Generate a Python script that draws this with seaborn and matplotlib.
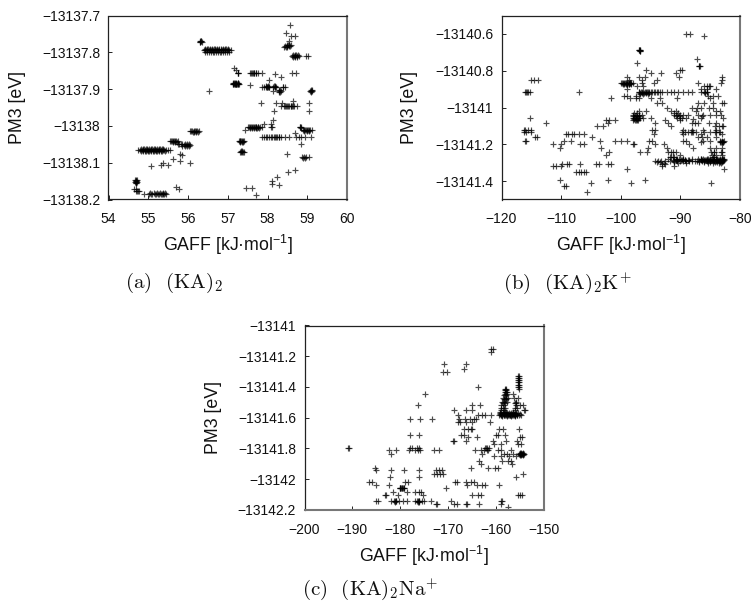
import matplotlib
matplotlib.use("Agg")
import matplotlib.pyplot as plt
import pandas as pd
import seaborn as sns

# ---- panel (a): PM3 level (eV) and GAFF values (kJ/mol) found at that level
a_pm3 = [-13137.725, -13137.747, -13137.757, -13137.770, -13137.780, -13137.785, -13137.795,
         -13137.810, -13137.842, -13137.848, -13137.857, -13137.860, -13137.867, -13137.875,
         -13137.885, -13137.888, -13137.893, -13137.905, -13137.932, -13137.938, -13137.945,
         -13137.960, -13137.985, -13137.995, -13138.004, -13138.012, -13138.015, -13138.020,
         -13138.030, -13138.042, -13138.048, -13138.052, -13138.066, -13138.070, -13138.075,
         -13138.080, -13138.085, -13138.090, -13138.095, -13138.100, -13138.105, -13138.110,
         -13138.120, -13138.125, -13138.140, -13138.150, -13138.157, -13138.160, -13138.165,
         -13138.168, -13138.172, -13138.178, -13138.185, -13138.187]
a_gaff = [[58.57], [58.47], [58.58, 58.68], [56.30, 56.32, 56.33, 58.55],
          [58.48, 58.52, 58.55, 58.58], [58.42, 58.46, 58.50],
          [56.40, 56.43, 56.46, 56.49, 56.52, 56.55, 56.58, 56.61, 56.64, 56.67, 56.70, 56.73,
           56.76, 56.79, 56.82, 56.85, 56.88, 56.91, 56.94, 56.97, 57.00, 57.04, 57.08],
          [58.62, 58.66, 58.70, 58.74, 58.78, 58.98, 59.03], [57.15], [57.20],
          [57.25, 57.27, 57.55, 57.60, 57.63, 57.67, 57.70, 57.75, 57.85, 58.62, 58.72], [58.20],
          [58.35], [58.05],
          [57.12, 57.15, 57.17, 57.20, 57.22, 57.25, 57.28], [57.55],
          [57.85, 57.92, 57.95, 57.98, 58.02, 58.05, 58.15, 58.18, 58.22, 58.38, 58.45],
          [56.52, 58.13, 58.30, 58.33, 59.08, 59.10, 59.12], [58.65],
          [57.83, 58.22, 58.37, 59.05],
          [58.35, 58.42, 58.47, 58.52, 58.58, 58.62, 58.67, 58.75], [58.17, 59.05], [58.15],
          [57.90, 58.10],
          [57.52, 57.56, 57.60, 57.65, 57.70, 57.75, 57.80, 57.85, 58.10, 58.82, 58.85],
          [57.43, 58.90, 58.95, 59.00, 59.05, 59.12], [56.05, 56.10, 56.18, 56.23, 56.27], [58.70],
          [57.85, 57.92, 57.98, 58.05, 58.12, 58.20, 58.25, 58.30, 58.35, 58.45, 58.55, 58.72,
           58.80, 58.85, 58.95, 59.10],
          [55.55, 55.60, 55.65, 55.70, 55.75, 57.28, 57.32, 57.36, 57.40],
          [55.75, 55.85, 58.85], [55.90, 55.95, 56.00, 56.05],
          [54.75, 54.80, 54.84, 54.88, 54.92, 54.96, 55.00, 55.04, 55.08, 55.12, 55.16, 55.20,
           55.24, 55.28, 55.32, 55.36, 55.40, 55.45, 55.50, 55.55],
          [57.30, 57.36, 57.40], [55.80, 58.48], [55.85],
          [58.88, 58.92, 58.96, 59.05], [55.62], [55.80], [55.38, 56.05], [55.32, 55.50], [55.07],
          [58.68], [58.52], [58.23], [54.68, 54.70, 58.12], [58.12], [58.30], [55.70],
          [57.47, 57.60], [54.63, 54.70, 55.78], [54.77],
          [54.90, 55.02, 55.10, 55.17, 55.25, 55.32, 55.38, 55.45], [57.70]]

# panel (a): the tightly packed runs that read as solid strokes
a_dense_pm3 = [-13137.792, -13137.798, -13137.772, -13137.782, -13137.808, -13137.812,
               -13137.855, -13137.883, -13137.887, -13137.892, -13137.895, -13137.903, -13137.907,
               -13137.947, -13138.002, -13138.006, -13138.010, -13138.014, -13138.017,
               -13138.029, -13138.041, -13138.044, -13138.050, -13138.054, -13138.064, -13138.068,
               -13138.069, -13138.071, -13138.086, -13138.148, -13138.153, -13138.156, -13138.176,
               -13138.183, -13138.186]
a_dense_gaff = [[56.42, 56.47, 56.51, 56.56, 56.60, 56.65, 56.69, 56.74, 56.78, 56.83, 56.87, 56.92, 56.96, 57.01],
                [56.44, 56.48, 56.53, 56.57, 56.62, 56.66, 56.71, 56.75, 56.80, 56.84, 56.89, 56.93, 56.98, 57.03],
                [56.29, 56.31, 56.34], [58.44, 58.50, 58.54, 58.57], [58.64, 58.68, 58.72, 58.76],
                [58.65, 58.69, 58.73], [57.58, 57.65, 57.72, 57.27],
                [57.13, 57.16, 57.19, 57.22, 57.25, 57.27], [57.14, 57.18, 57.21, 57.24, 57.26],
                [57.95, 58.00, 58.17, 58.20], [57.98, 58.03, 58.19, 58.40],
                [58.28, 58.32, 59.09, 59.11], [58.29, 58.31, 59.10],
                [58.44, 58.50, 58.55, 58.60, 58.65],
                [57.54, 57.58, 57.63, 57.68, 57.72, 57.77, 58.11, 58.83],
                [57.55, 57.61, 57.66, 57.71, 57.74, 57.79, 58.84],
                [58.92, 58.97, 59.02, 59.07], [58.93, 58.99, 59.04, 56.08, 56.15, 56.21],
                [56.12, 56.16, 56.20, 56.25],
                [58.10, 58.16, 58.22, 58.28, 57.95],
                [55.58, 55.63, 55.68, 57.30, 57.34, 57.38], [55.62, 55.67, 55.72, 57.31, 57.35, 57.39],
                [55.78, 55.82, 55.92, 55.97, 56.02], [55.93, 55.98, 56.03, 55.84],
                [54.82, 54.86, 54.90, 54.94, 54.98, 55.02, 55.06, 55.10, 55.14, 55.18, 55.22, 55.26, 55.30, 55.34, 55.38],
                [54.83, 54.87, 54.91, 54.95, 54.99, 55.03, 55.07, 55.11, 55.15, 55.19, 55.23, 55.27, 55.31, 55.35, 55.42],
                [57.33, 57.37], [57.34, 57.38], [58.90, 58.94],
                [54.66, 54.69, 54.71], [54.67, 54.70, 54.72], [54.68, 54.70], [54.68, 54.72, 54.75],
                [55.05, 55.15, 55.22, 55.30, 55.36, 55.42], [55.08, 55.20, 55.28, 55.34, 55.40]]

# ---- panel (b)
b_pm3 = [-13140.600, -13140.610, -13140.690, -13140.735, -13140.760, -13140.775, -13140.795,
         -13140.815, -13140.835, -13140.850, -13140.865, -13140.885, -13140.900, -13140.918,
         -13140.935, -13140.950, -13140.975, -13141.000, -13141.020, -13141.040, -13141.055,
         -13141.070, -13141.085, -13141.100, -13141.120, -13141.135, -13141.145, -13141.160,
         -13141.180, -13141.200, -13141.220, -13141.240, -13141.260, -13141.280, -13141.290,
         -13141.305, -13141.320, -13141.335, -13141.350, -13141.395, -13141.410, -13141.425,
         -13141.460]
b_gaff = [[-89.0, -88.4], [-86.1], [-97.0, -96.7], [-87.2], [-97.2], [-86.9, -86.7],
          [-95.8, -89.8, -90.1], [-95.0, -93.2, -90.7], [-98.9, -97.0, -83.0, -96.0, -90.3],
          [-115.0, -114.5, -113.9, -98.7, -96.5, -94.0, -83.0],
          [-100.0, -99.7, -99.3, -99.0, -98.7, -98.4, -98.0, -96.5, -94.5, -87.0, -83.2],
          [-97.3, -86.0, -85.5, -85.2, -85.0, -96.3], [-99.0, -86.5, -85.6, -84.0],
          [-116.0, -115.7, -115.2, -97.0, -96.6, -96.2, -95.8, -95.4, -95.0, -94.5, -94.0, -93.5,
           -93.0, -92.2, -91.5, -91.0, -90.4, -89.6, -88.8, -88.0, -86.5, -86.0, -85.5, -107.0],
          [-99.5, -99.0, -97.5, -85.3, -84.5, -83.7], [-101.7, -98.5, -97.5, -96.9, -95.0, -93.5, -90.5, -85.0],
          [-94.0, -93.0, -87.0, -86.0, -84.5, -83.0, -82.7], [-92.3, -88.0, -87.2, -86.5, -85.2, -84.5],
          [-97.0, -95.8, -91.5, -90.7, -87.3, -84.0, -83.4],
          [-98.0, -97.5, -97.0, -96.5, -91.0, -90.5, -90.0, -89.5, -88.8, -87.0, -86.2, -85.0, -84.0, -83.2],
          [-115.3, -97.9, -97.5, -97.1, -96.7, -96.3, -95.0, -89.8, -89.0, -86.5, -82.8],
          [-102.5, -101.9, -101.0, -97.9, -97.5, -97.1, -92.5, -90.0],
          [-112.6, -102.2, -94.3, -92.0, -88.0, -87.5, -87.0, -85.2, -84.0],
          [-104.0, -103.0, -83.5, -83.0, -82.8, -84.2, -91.5],
          [-116.3, -116.1, -115.5, -115.0, -94.8, -94.2, -89.6, -88.0, -86.2, -84.0],
          [-116.2, -115.9, -115.0, -89.8, -89.2, -88.8, -88.0, -87.4, -86.0, -85.0, -84.2, -83.5],
          [-109.2, -108.8, -108.2, -107.9, -107.0, -106.2, -94.5, -89.5, -86.5, -83.1],
          [-114.3, -114.0, -104.8, -87.0, -86.4, -85.5, -84.0],
          [-109.5, -108.3, -103.4, -101.0, -100.0, -99.0, -83.4, -83.0, -82.7, -95.2, -94.7],
          [-111.3, -110.0, -106.8, -106.2, -98.0, -97.8, -94.2, -92.8, -88.5],
          [-110.2, -103.3, -95.5, -92.2, -87.9, -85.0, -84.0, -83.0],
          [-102.0, -96.8, -95.6, -92.0, -91.6, -91.2, -90.8, -84.8, -84.4],
          [-102.4, -90.0, -84.7, -84.0, -83.0],
          [-92.0, -90.5, -89.5, -88.0, -87.0, -86.5, -85.5, -85.0, -84.0, -83.0, -82.7],
          [-94.2, -93.8, -93.2, -92.5, -91.8, -91.0, -90.5, -90.0, -89.6, -89.0, -88.5, -88.0,
           -87.6, -87.2, -86.8, -86.3, -86.0, -85.6, -85.3, -85.0, -84.6, -84.3, -84.0, -83.6,
           -83.3, -83.0, -82.8],
          [-109.8, -109.0, -108.6, -106.8, -102.1, -101.7, -104.2, -103.7, -93.1, -92.6],
          [-111.3, -110.8, -110.0, -93.0, -91.0], [-99.0, -82.6],
          [-107.5, -107.0, -106.6, -106.2, -105.8], [-110.2, -102.1, -95.9],
          [-105.0, -98.2, -84.8], [-109.6, -109.1], [-105.6]]

# panel (b): the tightly packed runs
b_dense_pm3 = [-13140.688, -13140.692, -13140.775, -13140.868, -13140.871, -13140.874,
               -13140.915, -13140.920, -13140.924, -13141.030, -13141.045, -13141.055, -13141.062,
               -13141.070, -13141.135, -13141.180, -13141.185, -13141.190, -13141.240,
               -13141.270, -13141.278, -13141.284, -13141.288, -13141.294, -13141.300]
b_dense_gaff = [[-96.9, -96.8], [-96.8, -96.7], [-86.8], [-99.8, -99.4, -99.1, -98.8, -98.5, -98.2],
                [-99.5, -99.2, -98.9, -98.6, -98.3], [-99.6, -99.0, -98.7],
                [-115.9, -115.6, -96.9, -96.4, -96.0, -95.6, -95.2, -94.8, -94.2, -93.8, -85.9, -85.6],
                [-96.8, -96.5, -96.1, -95.7, -95.3, -85.8], [-96.7, -96.2, -95.5],
                [-97.7, -97.2, -91.0, -90.4], [-97.9, -97.6, -97.3, -96.9, -90.8, -90.2, -86.4],
                [-97.8, -97.4, -97.0, -90.5, -90.0], [-97.7, -97.3, -87.9], [-97.6, -97.2],
                [-88.2, -87.9, -84.1, -83.3], [-116.1, -115.9, -89.5, -89.0, -85.0, -86.2],
                [-83.2, -83.0, -82.9, -86.6], [-83.3, -83.1, -82.8], [-83.2, -83.0, -84.3],
                [-91.8, -91.5, -91.2, -91.0, -84.6, -84.4],
                [-90.8, -90.2, -89.5, -86.6, -86.2, -85.3, -84.6, -83.8, -83.3, -82.9],
                [-91.2, -90.6, -89.8, -89.2, -88.6, -86.5, -86.1, -85.7, -85.2, -84.8, -84.4, -84.1, -83.7, -83.4, -83.1, -82.7],
                [-90.7, -89.9, -89.3, -88.7, -86.4, -85.9, -85.5, -85.1, -84.7, -84.3, -83.9, -83.5, -83.2, -82.9],
                [-94.0, -93.5, -91.0, -86.9, -86.0, -85.0, -84.2, -83.8, -83.4, -83.0],
                [-92.8, -90.4, -89.1, -85.4, -84.5, -83.6, -83.2], [-92.5, -85.3, -83.1]]

# ---- panel (c)
c_pm3 = [-13141.150, -13141.170, -13141.250, -13141.280, -13141.300, -13141.340, -13141.370,
         -13141.400, -13141.420, -13141.445, -13141.470, -13141.495, -13141.520, -13141.550,
         -13141.580, -13141.605, -13141.625, -13141.670, -13141.710, -13141.725, -13141.750,
         -13141.770, -13141.795, -13141.810, -13141.835, -13141.850, -13141.880, -13141.900,
         -13141.925, -13141.940, -13141.965, -13141.985, -13142.015, -13142.035, -13142.055,
         -13142.080, -13142.100, -13142.140, -13142.160, -13142.180]
c_gaff = [[-160.7, -161.0], [-161.1], [-170.9, -166.2], [-166.6], [-171.0, -170.3],
          [-155.5, -155.2], [-155.5, -155.2], [-155.5, -155.2, -163.7], [-158.2, -157.9],
          [-174.9, -158.1, -157.7, -156.5], [-158.5, -158.0, -157.6, -156.3, -155.5],
          [-158.7, -158.3, -157.8, -155.9], [-176.3, -165.0, -163.3, -159.0, -158.3, -155.9, -155.0, -154.4],
          [-168.7, -166.2, -165.0, -159.0, -158.3, -156.0, -154.2, -153.9],
          [-159.3, -159.0, -158.7, -158.4, -158.1, -157.8, -157.5, -157.2, -156.9, -156.6,
           -156.3, -156.0, -155.6, -155.2, -154.7, -163.7, -163.0, -162.3, -161.0, -168.0],
          [-177.9, -175.8, -173.4, -167.8, -166.5, -165.5, -164.7, -164.3],
          [-168.0, -167.5, -166.2, -165.0, -161.2], [-166.6, -165.9, -165.3, -165.0, -159.3, -158.5, -155.2],
          [-178.0, -176.0, -167.4, -166.8, -160.0, -159.5, -158.2],
          [-164.0, -165.8, -155.0, -154.5], [-169.0, -168.8, -166.3, -160.6, -158.0, -155.6],
          [-155.4, -154.7, -159.0, -160.5], [-191.0, -190.7, -178.0, -177.5, -176.5, -176.0],
          [-181.0, -182.3, -178.2, -177.0, -176.4, -175.8, -173.0, -172.0, -164.5, -163.2, -162.5, -162.0, -161.6, -159.6, -159.0, -156.9],
          [-182.0, -155.2, -155.0, -154.8, -154.6, -154.4, -154.2, -158.4, -157.8, -156.5, -163.0],
          [-160.5, -158.9, -157.3, -155.9], [-163.5, -158.8, -157.5, -156.8], [-163.2, -156.6],
          [-185.2, -165.2, -161.7, -160.3, -159.5], [-185.0, -182.0, -179.3, -176.2, -172.5, -172.0, -171.3],
          [-172.9, -172.4, -171.8, -171.0, -154.3], [-182.2, -176.0, -155.8],
          [-186.5, -186.0, -179.0, -178.3, -168.5, -168.2, -166.2, -165.2, -164.6],
          [-185.0, -182.3, -166.0, -164.0, -163.0, -162.3, -159.3], [-180.0, -179.7, -179.3, -170.5],
          [-181.5, -178.6, -177.0, -176.2, -175.6], [-183.2, -183.0, -180.5, -175.3, -165.0, -163.8, -163.2, -155.5, -155.0, -154.6],
          [-185.0, -184.7, -182.0, -181.2, -180.8, -180.3, -179.5, -178.5, -177.0, -176.3, -176.0, -175.5, -175.0, -173.5, -169.5, -159.0, -158.7],
          [-172.5, -172.3, -168.8, -168.1, -166.3, -166.0, -163.5, -159.0], [-157.5]]

# panel (c): the tightly packed runs
c_dense_pm3 = [-13141.330, -13141.355, -13141.385, -13141.410, -13141.435, -13141.455, -13141.480,
               -13141.505, -13141.535, -13141.560, -13141.572, -13141.578, -13141.585, -13141.590,
               -13141.800, -13141.830, -13141.838, -13141.842, -13142.055, -13142.060, -13142.140,
               -13142.145]
c_dense_gaff = [[-155.4, -155.3], [-155.4, -155.3], [-155.4, -155.3], [-158.1, -158.0, -155.3],
                [-158.2, -158.0, -157.8], [-158.3, -158.0], [-158.4, -158.1, -157.9],
                [-158.6, -158.2, -156.0, -155.8], [-159.0, -158.5, -158.1, -156.1, -155.7],
                [-159.1, -158.4, -157.9, -156.5],
                [-159.2, -158.6, -158.2, -157.7, -157.3, -156.8, -156.4, -155.9, -155.4],
                [-159.1, -158.5, -158.0, -157.6, -157.1, -156.7, -156.2, -155.8, -155.1],
                [-158.9, -158.3, -157.9, -157.4, -157.0, -156.5, -156.1, -155.7],
                [-158.8, -157.7, -156.9, -156.0],
                [-162.4, -162.1, -161.8, -161.5], [-155.0, -154.7, -154.4],
                [-155.1, -154.9, -154.5, -154.3], [-155.0, -154.7, -154.4],
                [-180.1, -179.8, -179.5], [-180.0, -179.6, -179.3],
                [-181.3, -180.9, -176.5, -176.1], [-181.1, -176.4, -176.2]]

A_XTICKS = [54, 55, 56, 57, 58, 59, 60]
A_YTICKS = [-13138.2, -13138.1, -13138.0, -13137.9, -13137.8, -13137.7]
A_YLABELS = ["−13138.2", "−13138.1", "−13138", "−13137.9", "−13137.8", "−13137.7"]
B_XTICKS = [-120, -110, -100, -90, -80]
B_YTICKS = [-13141.4, -13141.2, -13141.0, -13140.8, -13140.6]
B_YLABELS = ["−13141.4", "−13141.2", "−13141", "−13140.8", "−13140.6"]
C_XTICKS = [-200, -190, -180, -170, -160, -150]
C_YTICKS = [-13142.2, -13142.0, -13141.8, -13141.6, -13141.4, -13141.2, -13141.0]
C_YLABELS = ["−13142.2", "−13142", "−13141.8", "−13141.6", "−13141.4", "−13141.2", "−13141"]
CAPTIONS = [r"$\mathrm{(a)\ \ (KA)_2}$", r"$\mathrm{(b)\ \ (KA)_2K^{+}}$", r"$\mathrm{(c)\ \ (KA)_2Na^{+}}$"]
XLABEL = r"GAFF [kJ·mol$^{-1}$]"
YLABEL = "PM3 [eV]"


def table(levels, groups, dense_levels, dense_groups):
    rows = [(x, y) for y, xs in zip(levels, groups) for x in xs]
    rows += [(x, y) for y, xs in zip(dense_levels, dense_groups) for x in xs]
    return pd.DataFrame(rows, columns=["gaff", "pm3"])


sns.set_theme(style="white")
plt.rcParams["font.family"] = ["Liberation Sans", "DejaVu Sans"]
plt.rcParams["mathtext.fontset"] = "custom"
plt.rcParams["mathtext.rm"] = "cmr10"
plt.rcParams["mathtext.default"] = "regular"

W, H = 751, 604
fig = plt.figure(figsize=(W / 100, H / 100), dpi=100)


def panel(box, data, xlim, ylim, xticks, yticks, ylabels, caption, cap_xy, grey_sides):
    l, t, r, b = box
    ax = fig.add_axes([l / W, 1 - b / H, (r - l) / W, (b - t) / H])
    sns.scatterplot(data=data, x="gaff", y="pm3", marker="+", s=20, color="black",
                    linewidth=0.85, alpha=0.7, ax=ax, legend=False, clip_on=False)
    ax.set_xlim(*xlim)
    ax.set_ylim(*ylim)
    ax.set_xticks(xticks)
    ax.set_xticklabels([str(v).replace("-", "−") for v in xticks])
    ax.set_yticks(yticks)
    ax.set_yticklabels(ylabels)
    ax.tick_params(axis="both", direction="in", length=3, width=0.7, color="#222222",
                   labelsize=10, labelcolor="#111111", bottom=True, left=True)
    ax.tick_params(axis="x", pad=9)
    ax.tick_params(axis="y", pad=6)
    ax.set_xlabel(XLABEL, fontsize=12.8, labelpad=5, color="#111111")
    ax.set_ylabel(YLABEL, fontsize=12.8, color="#111111")
    ax.yaxis.set_label_coords((cap_xy[2] - l) / (r - l), 0.5)
    for name, s in ax.spines.items():
        s.set_visible(True)
        s.set_color("#222222")
        s.set_linewidth(0.9)
    for name in grey_sides:
        ax.spines[name].set_color("#777777")
        ax.spines[name].set_linewidth(1.5)
    fig.text(cap_xy[0] / W, 1 - cap_xy[1] / H, caption, fontsize=15, ha="center", va="center",
             color="#111111")
    return ax


panel((108.5, 15.5, 347, 199.5), table(a_pm3, a_gaff, a_dense_pm3, a_dense_gaff), (54, 60),
      (-13138.2, -13137.7), A_XTICKS, A_YTICKS, A_YLABELS, CAPTIONS[0], (174, 283, 26), ["right"])
panel((501.5, 15.5, 740, 199.5), table(b_pm3, b_gaff, b_dense_pm3, b_dense_gaff), (-120, -80),
      (-13141.5, -13140.5), B_XTICKS, B_YTICKS, B_YLABELS, CAPTIONS[1], (567, 283, 418), ["right"])
panel((304.5, 325.5, 544, 510), table(c_pm3, c_gaff, c_dense_pm3, c_dense_gaff), (-200, -150),
      (-13142.2, -13141.0), C_XTICKS, C_YTICKS, C_YLABELS, CAPTIONS[2], (370, 589, 222),
      ["right", "bottom"])

fig.savefig("out.png", dpi=100)
